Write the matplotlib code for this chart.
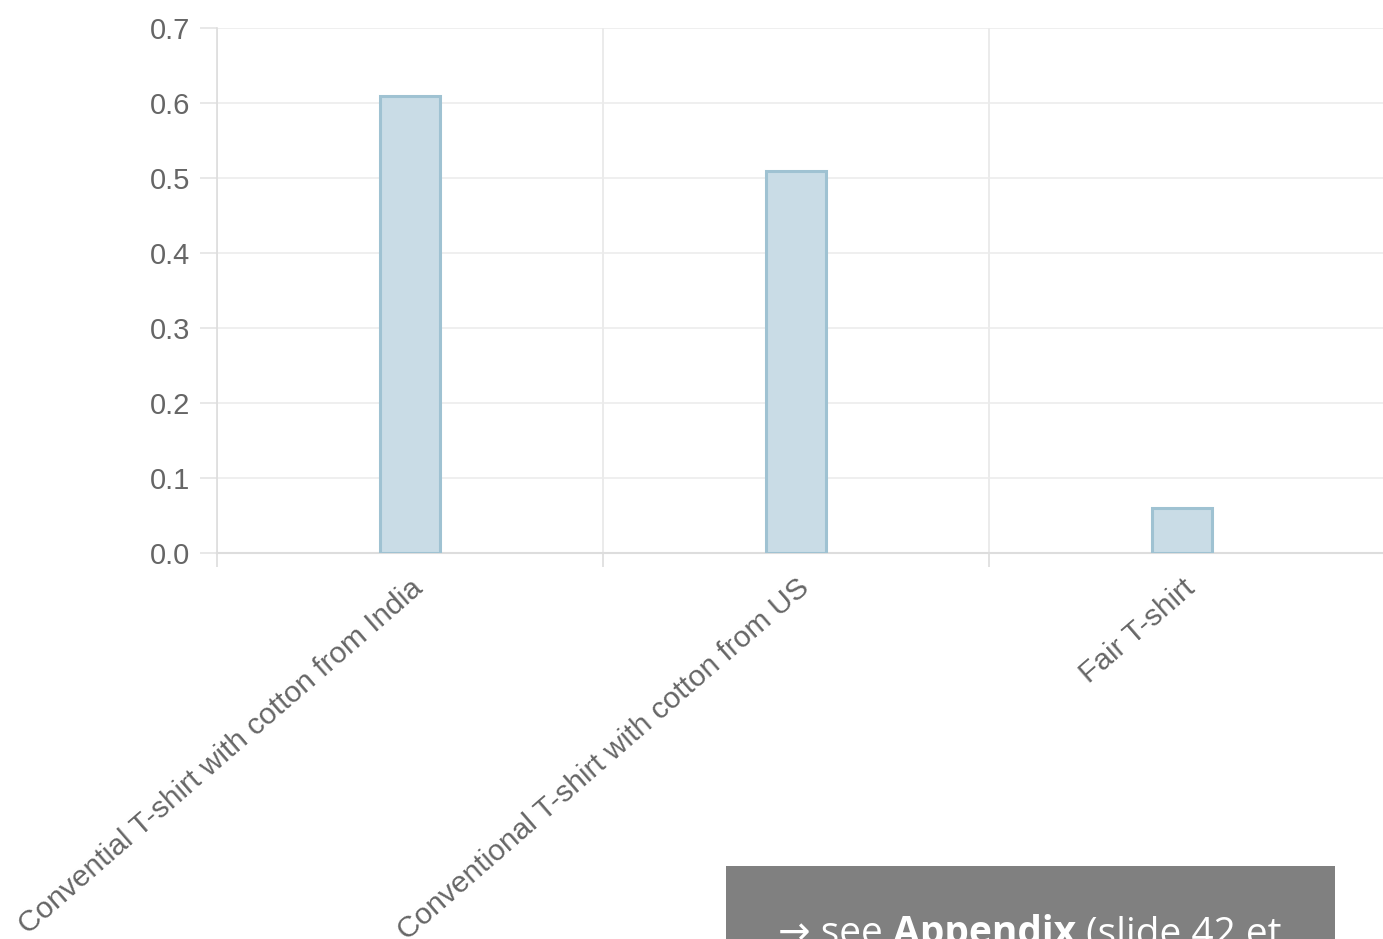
import matplotlib.pyplot as plt
from matplotlib.patches import Rectangle

categories = [
    "Convential T-shirt with cotton from India",
    "Conventional T-shirt with cotton from US",
    "Fair T-shirt",
]
values = [0.61, 0.51, 0.06]
y_ticks = [0.0, 0.1, 0.2, 0.3, 0.4, 0.5, 0.6, 0.7]

plt.rcParams['font.family'] = ['Liberation Sans', 'DejaVu Sans']

fig = plt.figure(figsize=(13.83, 9.39), dpi=100)
ax = fig.add_axes([217 / 1383, 1 - 553 / 939, 1 - 217 / 1383, (553 - 28) / 939])

x = list(range(len(categories)))
ax.bar(x, values, width=0.155, color='#c9dce6', edgecolor='#9fc2d2',
       linewidth=2.2, zorder=3)

ax.set_xlim(-0.5, 2.52)
ax.set_ylim(0, 0.7)

# category boundaries carry the vertical grid, the centres carry the labels
ax.set_xticks([-0.5, 0.5, 1.5], minor=True)
ax.set_xticks(x)
ax.set_xticklabels(categories, rotation=41, ha='right', rotation_mode='anchor',
                   fontsize=21.5, color='#666666')
ax.tick_params(axis='x', which='major', length=0, pad=15)
ax.tick_params(axis='x', which='minor', length=10, color='#dddddd', width=1.2)
ax.grid(axis='x', which='minor', color='#e8e8e8', linewidth=1.2, zorder=0)

ax.set_yticks(y_ticks)
ax.set_yticklabels([f"{v:.1f}" for v in y_ticks], fontsize=21, color='#666666')
ax.tick_params(axis='y', length=12, color='#e4e4e4', width=1.2, pad=7)
ax.grid(axis='y', color='#ececec', linewidth=1.2, zorder=0)

for side in ['top', 'right']:
    ax.spines[side].set_visible(False)
ax.spines['left'].set_color('#dddddd')
ax.spines['left'].set_linewidth(1.2)
ax.spines['bottom'].set_color('#dddddd')
ax.spines['bottom'].set_linewidth(1.5)

# grey note box, running off the lower edge of the figure
fig.patches.append(Rectangle((726 / 1383, 0), (1335 - 726) / 1383, (939 - 866) / 939,
                             transform=fig.transFigure, facecolor='#808080',
                             edgecolor='none', zorder=0))
note_y = 1 - 944 / 939
t1 = fig.text(778 / 1383, note_y, "\u2192 see ", color='white', fontsize=28,
              family=['Open Sans', 'DejaVu Sans'], va='baseline')
fig.canvas.draw()
bb = t1.get_window_extent()
t2 = fig.text(bb.x1 / 1383, note_y, "Appendix", color='white', fontsize=28,
              fontweight='bold', family=['Open Sans', 'DejaVu Sans'], va='baseline')
fig.canvas.draw()
bb = t2.get_window_extent()
fig.text(bb.x1 / 1383, note_y, " (slide 42 et", color='white', fontsize=28,
         family=['Open Sans', 'DejaVu Sans'], va='baseline')

fig.savefig('out.png', dpi=100)
